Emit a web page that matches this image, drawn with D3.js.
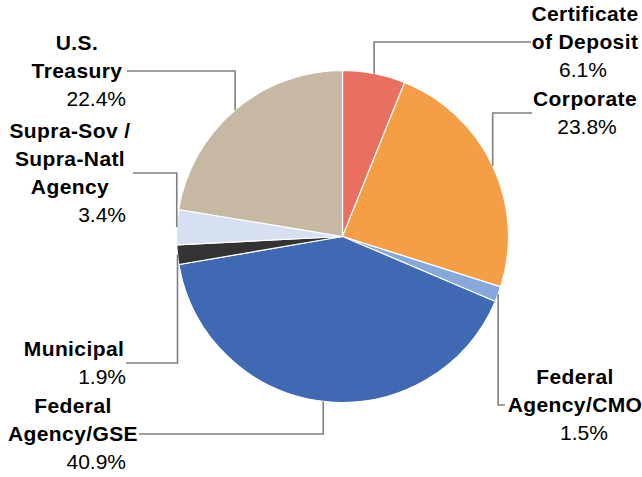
<!DOCTYPE html>
<html>
<head>
<meta charset="utf-8">
<script src="https://cdn.jsdelivr.net/npm/d3@7"></script>
<style>
  body { margin: 0; background: #fff; }
  svg { display: block; }
  text { font-family: "Liberation Sans", Arial, sans-serif; font-size: 21px; fill: #000; }
  .name { font-weight: bold; letter-spacing: 0.4px; }
</style>
</head>
<body>
<svg width="642" height="477"></svg>
<script>
// data, clockwise from 12 o'clock
const categories = ["Certificate of Deposit", "Corporate", "Federal Agency/CMO", "Federal Agency/GSE",
                    "Municipal", "Supra-Sov / Supra-Natl Agency", "U.S. Treasury"];
const shares = [6.1, 23.8, 1.5, 40.9, 1.9, 3.4, 22.4];
const sliceColors = ["#E97060", "#F49E46", "#86A8DA", "#3F6AB3", "#333333", "#D7E0F1", "#C6B8A3"];

// how each label is wrapped (lines of the category name)
const nameLines = [
    ["Certificate", "of Deposit"],
    ["Corporate"],
    ["Federal", "Agency/CMO"],
    ["Federal", "Agency/GSE"],
    ["Municipal"],
    ["Supra-Sov /", "Supra-Natl", "Agency"],
    ["U.S.", "Treasury"]
];

// label placement: leader end x, leader y, name centre x, pct x + anchor
const labelLayout = [
    { lx: 531, ly: 42,  nx: 585, px: 583, pa: "middle" },
    { lx: 532, ly: 113, nx: 585, px: 587, pa: "middle" },
    { lx: 505, ly: 405, nx: 575, px: 584, pa: "middle" },
    { lx: 139, ly: 434, nx: 73,  px: 126, pa: "end" },
    { lx: 126, ly: 363, nx: 74,  px: 126, pa: "end" },
    { lx: 133, ly: 173, nx: 70,  px: 126, pa: "end" },
    { lx: 127, ly: 71,  nx: 77,  px: 126, pa: "end" }
];

const svg = d3.select("svg");
const cx = 342.5, cy = 236.5, radius = 166;
const lineH = 28;

const data = categories.map((c, i) => ({ name: c, value: shares[i], i: i }));

const pie = d3.pie().value(d => d.value).sort(null);
const arc = d3.arc().innerRadius(0).outerRadius(radius);
const arcs = pie(data);

const root = svg.append("g").attr("transform", "translate(" + cx + "," + cy + ")");

root.selectAll("path.slice")
    .data(arcs)
    .enter().append("path")
        .attr("class", "slice")
        .attr("d", arc)
        .style("fill", d => sliceColors[d.data.i])
        .style("stroke", "#fff")
        .style("stroke-width", 1.2);

// leader lines: from the middle of the outer edge, vertical then horizontal
const labels = svg.append("g");
arcs.forEach(d => {
    const L = labelLayout[d.data.i];
    const mid = (d.startAngle + d.endAngle) / 2;
    const ex = cx + radius * Math.sin(mid);
    const ey = cy - radius * Math.cos(mid);
    labels.append("path")
        .attr("d", "M" + ex + "," + ey + "V" + L.ly + "H" + L.lx)
        .style("fill", "none")
        .style("stroke", "#7F7F7F")
        .style("stroke-width", 1.6);

    const lines = nameLines[d.data.i];
    const n = lines.length + 1;
    const firstBase = L.ly - (n - 1) / 2 * lineH + 7;
    lines.forEach((t, k) => {
        labels.append("text")
            .attr("class", "name")
            .attr("x", L.nx)
            .attr("y", firstBase + k * lineH)
            .attr("text-anchor", "middle")
            .text(t);
    });
    labels.append("text")
        .attr("x", L.px)
        .attr("y", firstBase + lines.length * lineH)
        .attr("text-anchor", L.pa)
        .text(d3.format(".1f")(d.data.value) + "%");
});
</script>
</body>
</html>
